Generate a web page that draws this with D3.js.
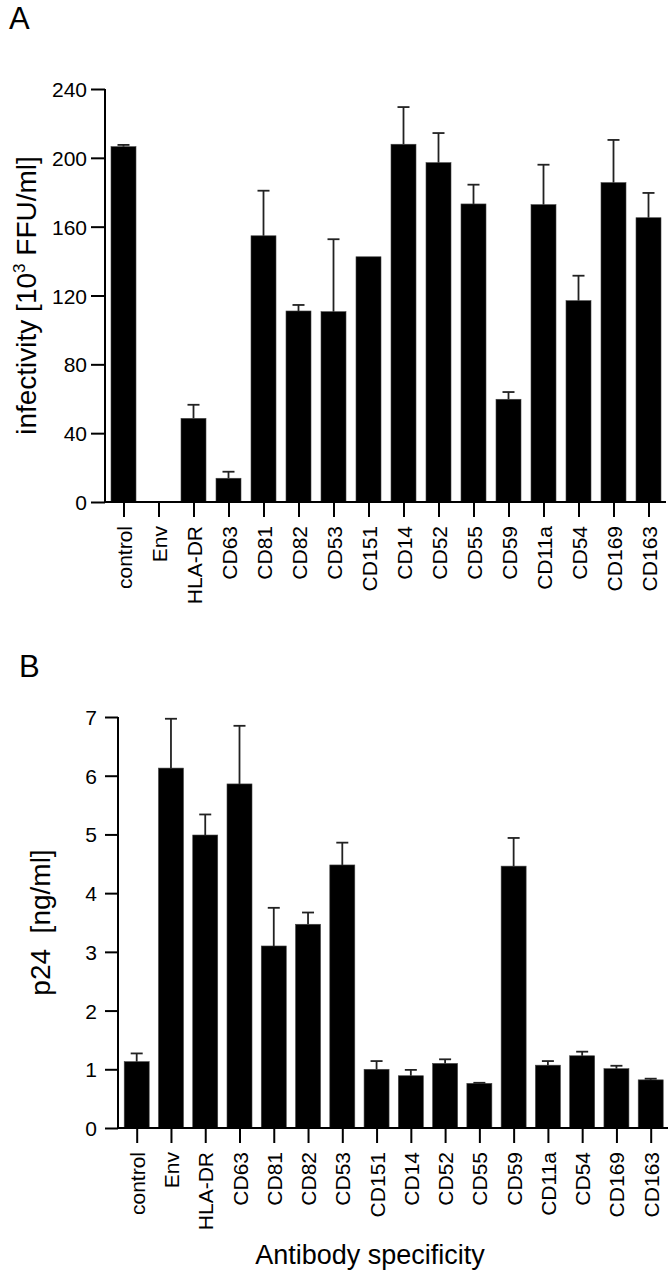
<!DOCTYPE html>
<html>
<head>
<meta charset="utf-8">
<script src="https://cdn.jsdelivr.net/npm/d3@7"></script>
<style>
  html, body { margin: 0; padding: 0; background: #fff; }
  svg { display: block; font-family: "Liberation Sans", Arial, Helvetica, sans-serif; }
</style>
</head>
<body>
<svg id="chart" width="672" height="1280"></svg>
<script>
// ---- data ----
const categories = ["control", "Env", "HLA-DR", "CD63", "CD81", "CD82", "CD53", "CD151",
                    "CD14", "CD52", "CD55", "CD59", "CD11a", "CD54", "CD169", "CD163"];

// Panel A: infectivity [10^3 FFU/ml], mean and upper error (SD)
const infectivity    = [206.5, 0, 48.6, 13.8, 154.7, 111, 110.6, 142.5, 207.9, 197.2, 173.2, 59.7, 172.8, 117, 185.6, 165.2];
const infectivityErr = [1.0, 0, 7.9, 3.8, 26.2, 3.5, 42.1, 0, 21.6, 17.2, 11.2, 4.2, 23.2, 14.5, 24.8, 14.4];
const infectivityTicks = [0, 40, 80, 120, 160, 200, 240];

// Panel B: p24 [ng/ml], mean and upper error (SD)
const p24    = [1.13, 6.13, 4.99, 5.86, 3.10, 3.47, 4.48, 1.00, 0.89, 1.10, 0.76, 4.46, 1.07, 1.23, 1.01, 0.82];
const p24Err = [0.14, 0.84, 0.35, 0.99, 0.65, 0.20, 0.38, 0.14, 0.10, 0.07, 0.01, 0.48, 0.07, 0.07, 0.05, 0.02];
const p24Ticks = [0, 1, 2, 3, 4, 5, 6, 7];

const svg = d3.select("#chart");

function panel(opts) {
  const g = svg.append("g");
  const x = d3.scalePoint().domain(categories).range(opts.xRange);
  const y = d3.scaleLinear().domain(opts.yDomain).range(opts.yRange);
  const barW = 25;
  const data = categories.map((c, i) => ({ c, v: opts.values[i], e: opts.errors[i] }));

  // bars
  g.selectAll("rect.bar").data(data).enter().append("rect")
    .attr("class", "bar")
    .attr("x", d => x(d.c) - barW / 2)
    .attr("width", barW)
    .attr("y", d => y(d.v))
    .attr("height", d => y(0) - y(d.v))
    .attr("fill", "#000")
    .attr("stroke", "#444")
    .attr("stroke-width", 0.6);

  // error bars (upper only)
  const eb = g.selectAll("g.err").data(data.filter(d => d.e > 0)).enter().append("g").attr("class", "err");
  eb.append("line")
    .attr("x1", d => x(d.c)).attr("x2", d => x(d.c))
    .attr("y1", d => y(d.v)).attr("y2", d => y(d.v + d.e))
    .attr("stroke", "#222").attr("stroke-width", 1.8);
  eb.append("line")
    .attr("x1", d => x(d.c) - 6).attr("x2", d => x(d.c) + 6)
    .attr("y1", d => y(d.v + d.e)).attr("y2", d => y(d.v + d.e))
    .attr("stroke", "#222").attr("stroke-width", 1.8);

  // y axis
  const yAxis = d3.axisLeft(y).tickValues(opts.yTicks).tickSize(opts.yTickLen).tickPadding(opts.yTickPad).tickFormat(d3.format("d"));
  const ya = g.append("g").attr("transform", `translate(${opts.yAxisX},0)`).call(yAxis);
  ya.select(".domain").remove();
  ya.append("line").attr("x1", 0).attr("x2", 0).attr("y1", y(opts.yDomain[0])).attr("y2", y(opts.yDomain[1]))
    .attr("stroke", "#000").attr("stroke-width", 2);
  ya.selectAll(".tick line").attr("stroke", "#000").attr("stroke-width", 2);
  ya.selectAll(".tick text").attr("fill", "#000").style("font-size", opts.yFont + "px").attr("dy", "0.36em");

  // x axis
  const xAxis = d3.axisBottom(x).tickSize(15).tickPadding(9);
  const xa = g.append("g").attr("transform", `translate(0,${y(0)})`).call(xAxis);
  xa.select(".domain").remove();
  xa.append("line").attr("x1", opts.yAxisX - (opts.xLineLeft || 0)).attr("x2", opts.xEnd).attr("y1", 0).attr("y2", 0)
    .attr("stroke", "#000").attr("stroke-width", 2);
  xa.selectAll(".tick line").attr("stroke", "#000").attr("stroke-width", 2);
  xa.selectAll(".tick text")
    .attr("fill", "#000")
    .style("font-size", "21px")
    .attr("transform", "rotate(-90)")
    .attr("text-anchor", "end")
    .attr("x", -24)
    .attr("y", 0)
    .attr("dy", "0.36em");

  // y title
  const ty = (opts.yRange[0] + opts.yRange[1]) / 2;
  const t = g.append("text")
    .attr("transform", `translate(${opts.titleX},${ty}) rotate(-90)`)
    .attr("text-anchor", "middle")
    .style("font-size", "28px")
    .attr("fill", "#000");
  opts.title(t);

  // panel letter
  g.append("text").attr("x", opts.letterX).attr("y", opts.letterY)
    .style("font-size", "31px").attr("fill", "#000").text(opts.letter);
}

panel({
  letter: "A", letterX: 9, letterY: 29,
  values: infectivity, errors: infectivityErr,
  xRange: [123.5, 648.5], xEnd: 666,
  yDomain: [0, 240], yRange: [502, 89], yTicks: infectivityTicks,
  yAxisX: 105, yTickLen: 14, yTickPad: 4, yFont: 21,
  titleX: 36,
  title: t => {
    t.append("tspan").text("infectivity [10");
    t.append("tspan").text("3").style("font-size", "17px").attr("dy", "-11");
    t.append("tspan").text(" FFU/ml]").attr("dy", "11");
  }
});

panel({
  letter: "B", letterX: 19, letterY: 677,
  values: p24, errors: p24Err,
  xRange: [136.7, 650.7], xEnd: 668,
  yDomain: [0, 7], yRange: [1128, 717], yTicks: p24Ticks,
  yAxisX: 118, yTickLen: 13, yTickPad: 8, yFont: 21,
  titleX: 50,
  title: t => { t.text("p24\u00a0\u00a0[ng/ml]"); }
});

// shared x title
svg.append("text")
  .attr("x", 370).attr("y", 1264)
  .attr("text-anchor", "middle")
  .style("font-size", "27px")
  .attr("fill", "#000")
  .text("Antibody specificity");
</script>
</body>
</html>
